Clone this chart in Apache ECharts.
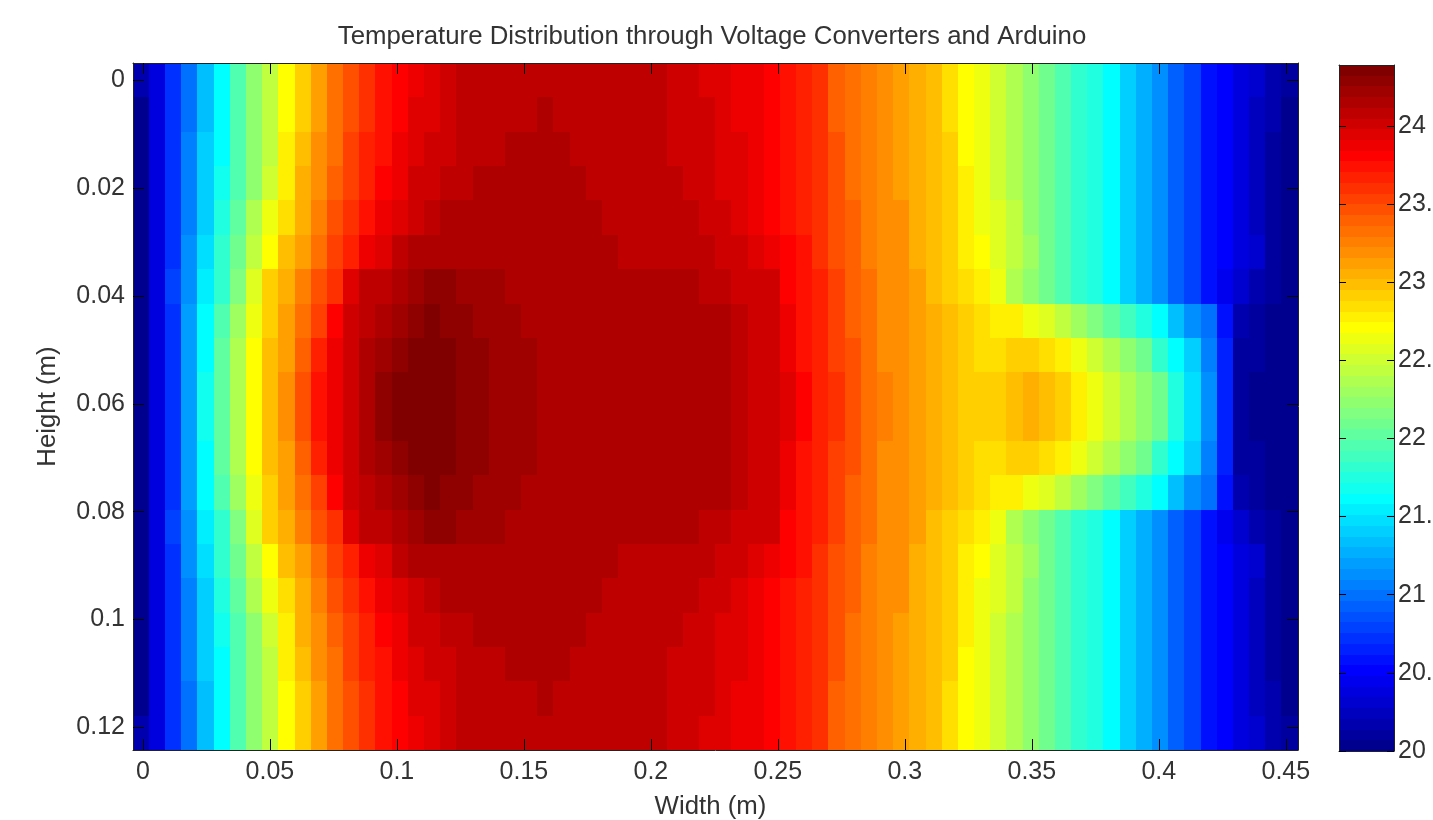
<!DOCTYPE html>
<html>
<head>
<meta charset="utf-8">
<style>html,body{margin:0;padding:0;background:#fff}#c{width:1433px;height:820px}</style>
<script src="https://cdn.jsdelivr.net/npm/echarts@6/dist/echarts.min.js"></script>
</head>
<body>
<div id="c"></div>
<script>
// Values, as levels of the 64-step colour scale (1 = coldest).
// The field is mirrored about mid height, so rows 10-19 repeat rows 9-0.
var row00=[3,6,11,15,20,24,29,33,36,40,43,46,49,51,53,55,56,57,58,59,60,60,60,60,60,60,60,60,60,60,60,60,60,59,59,58,58,57,57,56,55,54,53,50,49,48,47,46,45,44,42,40,39,37,35,33,31,29,27,26,24,21,19,17,14,12,9,8,6,5,3,2];
var row01=[1,6,11,15,20,24,29,33,36,40,43,46,49,51,53,55,56,58,58,59,60,60,60,60,60,61,60,60,60,60,60,60,60,59,59,59,58,57,57,56,55,54,53,50,49,48,47,46,45,44,42,40,39,37,35,33,31,29,27,26,24,21,19,17,14,12,9,8,6,4,3,1];
var row02=[1,6,11,16,21,24,29,33,36,41,44,47,49,52,54,55,57,58,59,59,60,60,60,61,61,61,61,60,60,60,60,60,60,59,59,59,58,58,57,56,55,54,53,51,49,48,47,46,45,44,43,40,39,37,35,33,31,29,27,26,24,21,19,17,14,12,9,8,6,4,2,1];
var row03=[1,6,11,16,21,25,29,33,37,41,45,47,50,52,54,56,57,59,59,60,60,61,61,61,61,61,61,61,60,60,60,60,60,60,59,59,58,58,57,56,55,54,53,51,49,48,47,46,45,44,43,41,39,37,35,33,31,29,27,26,24,21,19,17,14,12,9,8,6,4,2,1];
var row04=[1,6,11,16,21,26,30,35,39,42,45,48,51,53,55,57,58,59,60,61,61,61,61,61,61,61,61,61,61,60,60,60,60,60,60,59,59,58,57,56,55,54,53,51,50,48,47,47,45,44,43,41,39,38,36,33,31,29,27,26,24,21,19,17,14,12,9,8,6,4,2,1];
var row05=[1,6,11,17,22,27,31,36,40,44,46,49,52,54,57,58,60,61,61,61,61,61,61,61,61,61,61,61,61,61,60,60,60,60,60,60,59,59,58,57,56,55,53,51,50,48,47,47,45,44,43,41,40,38,36,34,31,29,27,26,24,21,19,17,14,12,9,8,6,5,2,1];
var row06=[1,6,12,17,23,27,32,38,43,45,48,51,53,58,60,60,61,62,63,63,62,62,62,61,61,61,61,61,61,61,61,61,61,61,61,60,60,59,59,59,56,55,54,52,50,49,47,47,46,44,43,42,41,39,35,33,31,29,27,26,24,21,19,17,14,12,9,7,5,3,2,1];
var row07=[1,6,11,18,24,29,34,39,43,46,49,52,56,59,60,61,62,63,64,63,63,62,62,62,61,61,61,61,61,61,61,61,61,61,61,61,61,60,59,59,57,55,54,52,50,49,47,47,46,45,44,43,42,41,41,39,38,36,34,32,30,28,26,24,20,17,15,9,3,2,1,1];
var row08=[1,6,11,18,24,30,35,40,44,46,50,54,57,59,61,62,63,64,64,64,63,63,62,62,62,61,61,61,61,61,61,61,61,61,61,61,61,60,59,59,57,55,54,52,51,49,47,47,46,45,44,43,42,42,43,43,42,41,39,37,35,33,31,27,24,21,16,10,2,2,1,1];
var row09=[1,6,11,18,25,30,35,40,44,47,51,55,57,59,61,63,64,64,64,64,63,63,62,62,62,61,61,61,61,61,61,61,61,61,61,61,61,60,59,59,58,56,54,53,51,49,48,47,46,45,44,43,43,43,44,45,44,43,41,39,37,35,33,31,26,22,17,10,2,1,1,1];
var levelRows=[row00,row01,row02,row03,row04,row05,row06,row07,row08,row09,row09,row08,row07,row06,row05,row04,row03,row02,row01,row00];

var xTicks=[0,0.05,0.1,0.15,0.2,0.25,0.3,0.35,0.4,0.45];
var yTicks=[0,0.02,0.04,0.06,0.08,0.1,0.12];
var cbarTicks=[20,20.5,21,21.5,22,22.5,23,23.5,24];
var cbarLabels=['20','20.','21','21.','22','22.','23','23.','24'];

var xStep=0.00637, yStep=0.00637, xOffset=-0.0008;
var tMin=20, tMax=24.39, nLevels=64;
var tStep=(tMax-tMin)/nLevels;
var FONT='"Liberation Sans", Arial, sans-serif', INK='#333333', FS=25, FS_TITLE=25.8;

// standard 64-step jet colour table
function jet(i){
  var c=function(v){v=Math.max(0,Math.min(1,v));return Math.round(v*255);};
  var r=c(Math.min((i-24)/16,1-(i-56)/16));
  var g=c(Math.min((i-8)/16,1-(i-40)/16));
  var b=c(Math.min(0.5+i/16,1-(i-24)/16));
  return 'rgb('+r+','+g+','+b+')';
}
function tempOf(level){return tMin+(level-0.5)*tStep;}

var pieces=[], cbarData=[];
for(var l=1;l<=nLevels;l++){
  pieces.push({gte:tMin+(l-1)*tStep,lt:tMin+l*tStep+(l===nLevels?1:0),color:jet(l)});
  cbarData.push([0.5,tempOf(l),tempOf(l)]);
}
var cells=[];
levelRows.forEach(function(row,r){
  row.forEach(function(level,k){cells.push([xOffset+k*xStep,r*yStep,tempOf(level)]);});
});

function renderCell(params,api){
  var x=api.value(0),y=api.value(1);
  var a=api.coord([x-xStep/2,y-yStep/2]),b=api.coord([x+xStep/2,y+yStep/2]);
  var x0=Math.round(a[0]),y0=Math.round(a[1]);
  return {type:'rect',shape:{x:x0,y:y0,width:Math.round(b[0])-x0,height:Math.round(b[1])-y0},
    style:{fill:api.visual('color')}};
}
function renderBar(params,api){
  var t=api.value(1);
  var a=api.coord([0,t+tStep/2]),b=api.coord([1,t-tStep/2]);
  var y0=Math.round(a[1]);
  return {type:'rect',shape:{x:a[0],y:y0,width:b[0]-a[0],height:Math.round(b[1])-y0},
    style:{fill:api.visual('color')}};
}
var xLim=[-0.0039,0.4548], yLim=[-0.0032,0.1242];
var line={show:true,onZero:false,lineStyle:{color:'#222',width:1}};
var tick=function(vals,len){return {show:true,inside:true,length:len,customValues:vals,lineStyle:{color:'#000',width:1}};};

var option={
  animation:false,
  backgroundColor:'#fff',
  textStyle:{fontFamily:FONT},
  title:{text:'Temperature Distribution through Voltage Converters and Arduino',left:707,top:19,textAlign:'center',
    textStyle:{fontFamily:FONT,fontSize:FS_TITLE,fontWeight:'normal',color:INK}},
  grid:[
    {left:133,top:63,width:1165,height:687,containLabel:false,outerBoundsMode:'none'},
    {left:1339,top:65,width:55,height:686,containLabel:false,outerBoundsMode:'none'}
  ],
  xAxis:[
    {type:'value',gridIndex:0,min:xLim[0],max:xLim[1],position:'bottom',z:5,name:'Width (m)',nameLocation:'middle',nameGap:36,
     nameTextStyle:{fontFamily:FONT,fontSize:FS_TITLE,color:INK,padding:[8,10,0,0]},axisLine:line,splitLine:{show:false},
     axisTick:tick(xTicks,11),axisLabel:{customValues:xTicks,margin:10,fontFamily:FONT,fontSize:FS,color:INK}},
    {type:'value',gridIndex:0,min:xLim[0],max:xLim[1],position:'top',z:5,axisLine:line,splitLine:{show:false},
     axisTick:tick(xTicks,11),axisLabel:{show:false}},
    {type:'value',gridIndex:1,min:0,max:1,position:'bottom',z:5,axisLine:line,splitLine:{show:false},axisTick:{show:false},axisLabel:{show:false}},
    {type:'value',gridIndex:1,min:0,max:1,position:'top',z:5,axisLine:line,splitLine:{show:false},axisTick:{show:false},axisLabel:{show:false}}
  ],
  yAxis:[
    {type:'value',gridIndex:0,min:yLim[0],max:yLim[1],inverse:true,position:'left',z:5,name:'Height (m)',nameLocation:'middle',nameGap:72,nameRotate:90,
     nameTextStyle:{fontFamily:FONT,fontSize:FS_TITLE,color:INK},axisLine:line,splitLine:{show:false},
     axisTick:tick(yTicks,11),axisLabel:{customValues:yTicks,margin:8,padding:[8,0,0,0],fontFamily:FONT,fontSize:FS,color:INK}},
    {type:'value',gridIndex:0,min:yLim[0],max:yLim[1],inverse:true,position:'right',z:5,axisLine:line,splitLine:{show:false},
     axisTick:tick(yTicks,11),axisLabel:{show:false}},
    {type:'value',gridIndex:1,min:tMin,max:tMax,position:'right',z:5,axisLine:line,splitLine:{show:false},
     axisTick:tick(cbarTicks,7),
     axisLabel:{customValues:cbarTicks,margin:4,fontFamily:FONT,fontSize:FS,color:INK,
       formatter:function(v){return cbarLabels[cbarTicks.indexOf(v)];}}},
    {type:'value',gridIndex:1,min:tMin,max:tMax,position:'left',z:5,axisLine:line,splitLine:{show:false},
     axisTick:tick(cbarTicks,7),axisLabel:{show:false}}
  ],
  visualMap:{type:'piecewise',show:false,dimension:2,seriesIndex:[0,1],pieces:pieces,outOfRange:{color:'#fff'}},
  series:[
    {type:'custom',xAxisIndex:0,yAxisIndex:0,renderItem:renderCell,data:cells,encode:{x:0,y:1},clip:true,silent:true},
    {type:'custom',xAxisIndex:2,yAxisIndex:2,renderItem:renderBar,data:cbarData,encode:{x:0,y:1},clip:true,silent:true}
  ]
};
echarts.init(document.getElementById('c'),null,{renderer:'canvas'}).setOption(option);
</script>
</body>
</html>
